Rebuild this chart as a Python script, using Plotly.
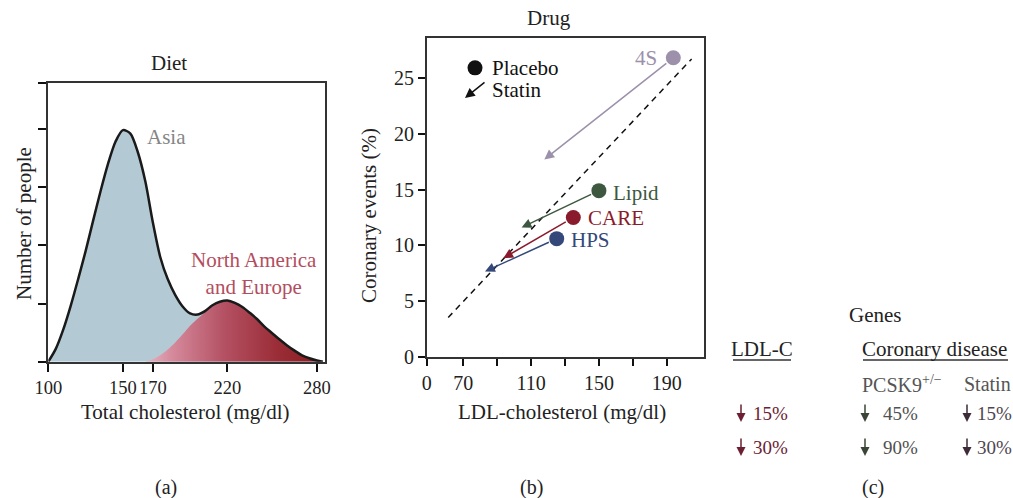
import plotly.graph_objects as go

W, H = 1013, 498
FONT = "Liberation Serif"
FS = 21

# ---------------- Panel (a): Diet ----------------
chol_x = [100, 105, 110, 115, 120, 125, 130, 135, 140, 145, 150, 155, 160, 165, 170, 175, 180,
          185, 190, 195, 200, 205, 210, 215, 220, 225, 230, 235, 240, 245, 250, 255, 260, 265,
          270, 275, 280, 284]
total_people = [0, 0.22, 0.55, 0.96, 1.42, 1.90, 2.42, 2.93, 3.40, 3.78, 3.98, 3.92, 3.60, 3.10,
                2.40, 1.80, 1.42, 1.15, 0.95, 0.83, 0.81, 0.87, 0.97, 1.03, 1.05, 1.01, 0.94,
                0.84, 0.73, 0.60, 0.49, 0.38, 0.28, 0.19, 0.11, 0.06, 0.02, 0]
na_x = [165, 170, 175, 180, 185, 190, 195, 200, 205, 210, 215, 220, 225, 230, 235, 240, 245,
        250, 255, 260, 265, 270, 275, 280, 284]
na_people = [0, 0.04, 0.11, 0.21, 0.33, 0.47, 0.62, 0.74, 0.85, 0.97, 1.03, 1.05, 1.01, 0.94,
             0.84, 0.73, 0.60, 0.49, 0.38, 0.28, 0.19, 0.11, 0.06, 0.02, 0]
a_xticks = [100, 150, 170, 220, 280]
a_yticks = [0, 1, 2, 3, 4, 4.79]

# ---------------- Panel (b): Drug ----------------
trials = ["4S", "Lipid", "CARE", "HPS"]
placebo_ldl = [193.9, 150.0, 134.9, 125.1]
placebo_events = [26.8, 14.9, 12.5, 10.6]
statin_ldl = [117.8, 104.4, 93.6, 82.8]
statin_events = [17.7, 11.6, 8.85, 7.66]
trial_colors = ["#9c90ab", "#3e5840", "#8a1b2c", "#34487a"]
ref_ldl = [61.1, 204.7]
ref_events = [3.54, 26.7]
b_xtickvals = [48.4, 70, 110, 150, 190]
b_xticktext = ["0", "70", "110", "150", "190"]
b_xminor = [90, 130, 170]
b_ytickvals = [0, 5, 10, 15, 20, 25]
legend_dot = (76.9, 25.9)
legend_arrow_tail = (83.4, 24.7)
legend_arrow_tip = (71.0, 23.2)

# ---------------- Panel (c): Genes ----------------
ldl_c_drop = [15, 30]
pcsk9_drop = [45, 90]
statin_drop = [15, 30]


def px(x):
    return x / W


def py(y):
    return 1 - y / H


def ann(text, x, y, size=FS, color="#222", xanchor="center", yanchor="middle", **kw):
    return dict(text=text, x=px(x), y=py(y), xref="paper", yref="paper", showarrow=False,
                xanchor=xanchor, yanchor=yanchor,
                font=dict(family=FONT, size=size, color=color), **kw)


fig = go.Figure()

# Asia (total) fill
fig.add_trace(go.Scatter(x=chol_x, y=total_people, mode="lines",
                         line=dict(width=0, shape="spline", smoothing=0.8),
                         fill="tozeroy", fillcolor="#b3cad4", xaxis="x", yaxis="y", hoverinfo="skip"))
# North America & Europe gradient fill
fig.add_trace(go.Scatter(x=na_x, y=na_people, mode="lines",
                         line=dict(width=0, shape="spline", smoothing=0.8),
                         fill="tozeroy",
                         fillgradient=dict(type="horizontal",
                                           colorscale=[[0, "#e6b3c0"], [0.15, "#d58a9c"],
                                                       [0.45, "#b35062"], [0.75, "#9a2c36"],
                                                       [1, "#8a1c1e"]]),
                         xaxis="x", yaxis="y", hoverinfo="skip"))
# outline
fig.add_trace(go.Scatter(x=chol_x, y=total_people, mode="lines",
                         line=dict(color="#1a1a1a", width=2.5, shape="spline", smoothing=0.8),
                         xaxis="x", yaxis="y", hoverinfo="skip"))

# Panel b: reference dashed line
fig.add_trace(go.Scatter(x=ref_ldl, y=ref_events, mode="lines",
                         line=dict(color="#111", width=1.5, dash="6px,5px"),
                         xaxis="x2", yaxis="y2", hoverinfo="skip"))
# placebo markers
fig.add_trace(go.Scatter(x=placebo_ldl, y=placebo_events, mode="markers",
                         marker=dict(size=15, color=trial_colors, line=dict(width=0)),
                         xaxis="x2", yaxis="y2", hoverinfo="skip"))
# legend dot
fig.add_trace(go.Scatter(x=[legend_dot[0]], y=[legend_dot[1]], mode="markers",
                         marker=dict(size=15, color="#111"), xaxis="x2", yaxis="y2",
                         hoverinfo="skip"))

annotations = []

# statin arrows
for i, t in enumerate(trials):
    annotations.append(dict(x=statin_ldl[i], y=statin_events[i], ax=placebo_ldl[i],
                            ay=placebo_events[i], xref="x2", yref="y2", axref="x2", ayref="y2",
                            showarrow=True, text="", arrowhead=2, arrowsize=1.3, arrowwidth=1.5,
                            arrowcolor=trial_colors[i], startstandoff=7))
annotations.append(dict(x=legend_arrow_tip[0], y=legend_arrow_tip[1], ax=legend_arrow_tail[0],
                        ay=legend_arrow_tail[1], xref="x2", yref="y2", axref="x2", ayref="y2",
                        showarrow=True, text="", arrowhead=2, arrowsize=1.3, arrowwidth=1.5,
                        arrowcolor="#111"))

# trial labels
annotations.append(ann("4S", 659, 58, color=trial_colors[0], xanchor="right"))
annotations.append(ann("Lipid", 611, 193, color=trial_colors[1], xanchor="left"))
annotations.append(ann("CARE", 586, 218, color=trial_colors[2], xanchor="left"))
annotations.append(ann("HPS", 569, 240, color=trial_colors[3], xanchor="left"))
annotations.append(ann("Placebo", 490, 68, color="#111", xanchor="left"))
annotations.append(ann("Statin", 490, 90, color="#111", xanchor="left"))

# panel a labels
annotations.append(ann("Diet", 169, 63))
annotations.append(ann("Asia", 145, 137, color="#858585", xanchor="left"))
annotations.append(ann("North America<br>and Europe", 254, 273, color="#b34d5e", align="center"))
annotations.append(ann("Total cholesterol (mg/dl)", 185, 412))
annotations.append(ann("Number of people", 24, 224, textangle=-90))

# panel b axis labels
annotations.append(ann("Drug", 549, 18))
annotations.append(ann("LDL-cholesterol (mg/dl)", 562, 412))
annotations.append(ann("Coronary events (%)", 369, 216, textangle=-90))

# panel c
annotations.append(ann("Genes", 875, 315))
annotations.append(ann("LDL-C", 762, 349))
annotations.append(ann("Coronary disease", 934, 349))
annotations.append(ann("PCSK9<sup>+/−</sup>", 860, 384, size=20, color="#555", xanchor="left"))
annotations.append(ann("Statin", 962, 384, size=20, color="#555", xanchor="left"))

rows_y = [413, 447]
cols = [
    (ldl_c_drop, 741, 751, "#6b1f30", "#6b2233"),
    (pcsk9_drop, 865, 881, "#3a4535", "#505050"),
    (statin_drop, 967, 975, "#3d2b3a", "#4f4550"),
]
for vals, ax_x, tx, acol, tcol in cols:
    for v, yy in zip(vals, rows_y):
        annotations.append(dict(x=px(ax_x), y=py(yy + 9), xref="paper", yref="paper", ax=0, ay=-19,
                                showarrow=True, text="", arrowhead=2, arrowsize=1.2,
                                arrowwidth=1.5, arrowcolor=acol))
        annotations.append(ann(f"{v}%", tx, yy, size=19, color=tcol, xanchor="left"))

annotations.append(ann("(a)", 166, 487, size=20))
annotations.append(ann("(b)", 531, 487, size=20))
annotations.append(ann("(c)", 873, 487, size=20))

shapes = [
    dict(type="line", xref="paper", yref="paper", x0=px(733), x1=px(791), y0=py(360), y1=py(360),
         line=dict(color="#333", width=1.5)),
    dict(type="line", xref="paper", yref="paper", x0=px(863), x1=px(1008), y0=py(360),
         y1=py(360), line=dict(color="#333", width=1.5)),
]

tickfont = dict(family=FONT, size=20, color="#222")
fig.update_layout(
    width=W, height=H, autosize=False, margin=dict(l=0, r=0, t=0, b=0, pad=0),
    paper_bgcolor="white", plot_bgcolor="white", showlegend=False,
    annotations=annotations, shapes=shapes,
    xaxis=dict(domain=[px(48.3), px(325)], range=[100, 285.4], tickvals=a_xticks,
               tickangle=0, ticks="outside", ticklen=8, tickwidth=2, tickcolor="#111",
               showline=True, mirror=True, linecolor="#333", linewidth=1.8, automargin=False,
               showgrid=False, zeroline=False,
               tickfont=dict(family=FONT, size=18.5, color="#222")),
    yaxis=dict(domain=[py(361.7), py(83)], range=[0, 4.79], tickvals=a_yticks,
               showticklabels=False, ticks="outside", ticklen=8, tickwidth=2, tickcolor="#111",
               showline=True, mirror=True, linecolor="#333", linewidth=1.8, automargin=False,
               showgrid=False, zeroline=False),
    xaxis2=dict(domain=[px(426.7), px(704)], range=[48.4, 212], tickvals=b_xtickvals,
                ticktext=b_xticktext, tickangle=0, ticks="outside", ticklen=7, tickwidth=1.5,
                tickcolor="#111",
                minor=dict(tickvals=b_xminor, ticks="outside", ticklen=7, tickwidth=1.5,
                           tickcolor="#111", showgrid=False),
                showline=True, mirror=True, linecolor="#333", linewidth=1.5, automargin=False,
                showgrid=False, zeroline=False, tickfont=tickfont, anchor="y2"),
    yaxis2=dict(domain=[py(357), py(37.7)], range=[0, 28.6], tickvals=b_ytickvals,
                ticks="outside", ticklen=7, tickwidth=1.5, tickcolor="#111",
                showline=True, mirror=True, linecolor="#333", linewidth=1.5, automargin=False,
                showgrid=False, zeroline=False, tickfont=tickfont, anchor="x2"),
)

fig.write_html("out.html", config={"displayModeBar": False},
               post_script="document.body.style.margin='0';document.body.style.overflow='hidden';")
